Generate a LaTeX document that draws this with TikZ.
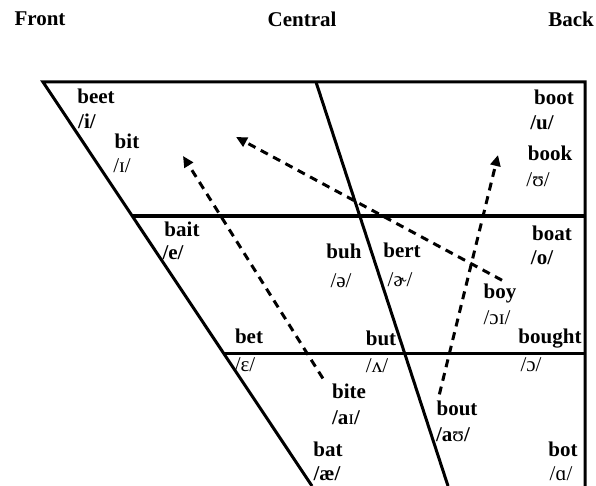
\documentclass[tikz,border=0pt]{standalone}
\usepackage{fontspec}
\setmainfont{Liberation Serif}
\usetikzlibrary{arrows.meta}

\tikzset{
  word/.style={font=\fontsize{21}{25}\selectfont\bfseries, inner sep=0pt},
  ipa/.style={font=\fontsize{21}{25}\selectfont, inner sep=0pt},
  chart/.style={line width=3pt},
  glide/.style={line width=3pt, dash pattern=on 8pt off 6pt,
    -{Triangle[length=11pt,width=10pt]}},
}

\begin{document}
\begin{tikzpicture}[x=1pt, y=-1pt]

\useasboundingbox (0,0) rectangle (596,486);

\def\ytop{82}
\def\ymid{216}
\def\ylow{353}
\def\ybot{486}

% the chart
\coordinate (tl) at (43,\ytop);
\coordinate (tr) at (585,\ytop);
\coordinate (br) at (585,\ybot);
\coordinate (bl) at (312,\ybot);
\coordinate (ct) at (316,\ytop);
\coordinate (cb) at (448,\ybot);
\coordinate (ml) at (132,\ymid);
\coordinate (mr) at (585,\ymid);
\coordinate (ll) at (224,\ylow);
\coordinate (lr) at (585,\ylow);

\draw[chart] (bl) -- (tl) -- (tr) -- (br);
\draw[chart] (ct) -- (cb);
\draw[chart] (ml) -- (mr);
\draw[chart] (ll) -- (lr);

\node[word] (front) at (40,19) {Front};
\node[word] (central) at (302,19) {Central};
\node[word] (back) at (571,19) {Back};

\node[word] (beet) at (96,96) {beet};
\node[word] (ibeet) at (87,121) {/i/};
\node[word] (bit) at (127,141) {bit};
\node[ipa] (ibit) at (122,166) {/ɪ/};
\node[word] (boot) at (554,97) {boot};
\node[word] (iboot) at (542,123) {/u/};
\node[word] (book) at (550,153) {book};
\node[ipa] (ibook) at (538,180) {/ʊ/};

\node[word] (bait) at (182,229) {bait};
\node[word] (ibait) at (173,253) {/e/};
\node[word] (buh) at (344,251) {buh};
\node[ipa] (ibuh) at (341,281) {/ə/};
\node[word] (bert) at (402,250) {bert};
\node[ipa] (ibert) at (400,280) {/ɚ/};
\node[word] (boat) at (552,233) {boat};
\node[word] (iboat) at (542,258) {/o/};
\node[word] (boy) at (500,293) {boy};
\node[ipa] (iboy) at (497,318) {/ɔɪ/};

\node[word] (bet) at (249,336) {bet};
\node[ipa] (ibet) at (245,365) {/ɛ/};
\node[word] (but) at (381,338) {but};
\node[ipa] (ibut) at (377,366) {/ʌ/};
\node[word] (bought) at (550,339) {bought};
\node[ipa] (ibought) at (531,365) {/ɔ/};

\node[word] (bite) at (349,391) {bite};
\node[word] (ibite) at (346,418) {/a\normalfont ɪ\bfseries/};
\node[word] (bout) at (457,408) {bout};
\node[word] (ibout) at (453,435) {/a\normalfont ʊ\bfseries/};
\node[word] (bat) at (328,449) {bat};
\node[word] (ibat) at (327,474) {/æ/};
\node[word] (bot) at (563,449) {bot};
\node[ipa] (ibot) at (561,474) {/ɑ/};

% diphthongs
\coordinate (biteend) at (183,156);
\coordinate (boyend) at (236,137);
\coordinate (boutend) at (498,155);

\draw[glide] (bite.north west) ++(-9,-5) -- (biteend);
\draw[glide] (boy.north) ++(2,-3) -- (boyend);
\draw[glide] (bout.north west) ++(3,-6) -- (boutend);

\end{tikzpicture}
\end{document}
